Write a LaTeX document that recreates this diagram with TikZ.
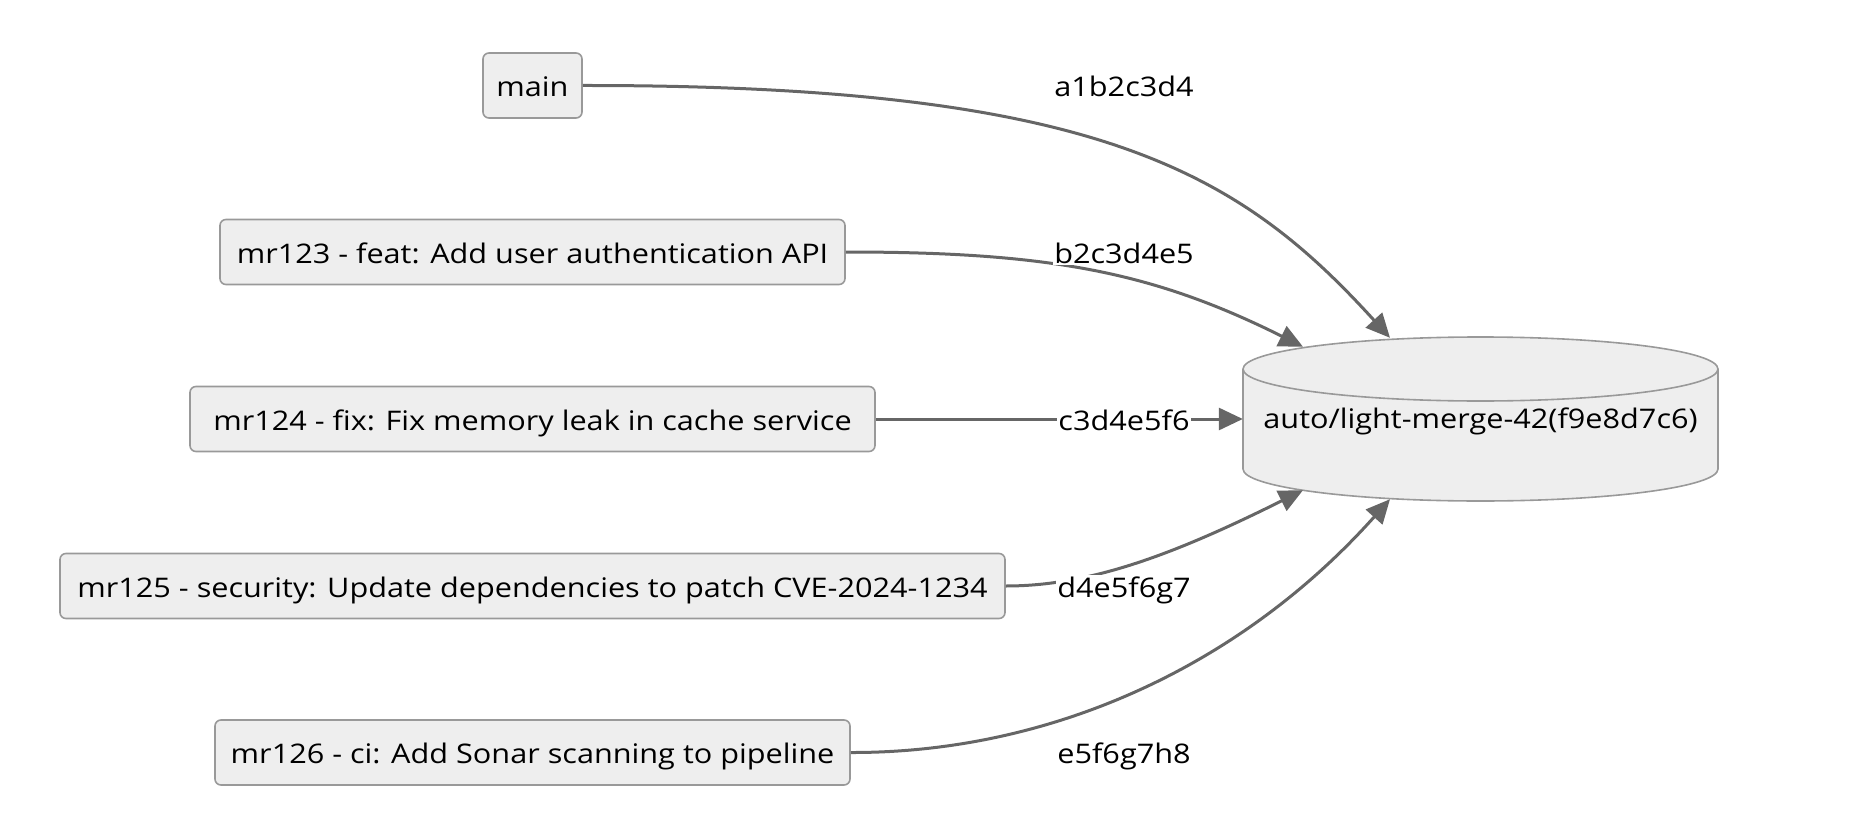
\documentclass[tikz,border=0pt]{standalone}
\usepackage{fontspec}
\setmainfont{Open Sans}[FakeStretch=1.135]
\usetikzlibrary{arrows.meta,calc}
\definecolor{boxfill}{HTML}{EEEEEE}
\definecolor{boxline}{HTML}{999999}
\definecolor{edgecol}{HTML}{666666}
\begin{document}
\begin{tikzpicture}[x=1pt,y=-1pt,
  txt/.style={font=\fontsize{27}{32}\selectfont},
  box/.style={txt, draw=boxline, fill=boxfill, line width=1.6pt, rounded corners=6pt,
    minimum height=65pt, inner sep=0pt, text height=23pt, text depth=0.6pt},
  lbl/.style={txt, fill=white, inner sep=1pt, text height=21.4pt, text depth=0pt},
  conn/.style={draw=edgecol, line width=3pt, -{Triangle[length=24pt,width=22pt]}},
  cyl/.style={draw=boxline, fill=boxfill, line width=1.6pt},
]
\useasboundingbox (0,0) rectangle (1874,824);

\node[box, minimum width=99pt]  (main)  at (532.5,85.5) {main};
\node[box, minimum width=625pt] (mr123) at (532.5,252) {mr123 - feat: Add user authentication API};
\node[box, minimum width=685pt] (mr124) at (532.5,419) {mr124 - fix: Fix memory leak in cache service};
\node[box, minimum width=945pt] (mr125) at (532.5,586) {mr125 - security: Update dependencies to patch CVE-2024-1234};
\node[box, minimum width=635pt] (mr126) at (532.5,752.5) {mr126 - ci: Add Sonar scanning to pipeline};

% cylinder shape
\path[cyl] (1243,369) -- (1243,469)
  arc[start angle=180, end angle=360, x radius=237.5pt, y radius=32pt]
  -- (1718,369)
  arc[start angle=0, end angle=180, x radius=237.5pt, y radius=32pt] -- cycle;
\draw[draw=boxline, line width=1.6pt] (1243,369)
  arc[start angle=180, end angle=360, x radius=237.5pt, y radius=32pt];
\node[txt, minimum width=475pt, minimum height=164pt, inner sep=0pt,
  text height=23pt, text depth=0.6pt] (db) at (1480.5,417) {auto/light-merge-42(f9e8d7c6)};

\draw[conn] (main.east) .. controls (1100,85) and (1240,173) .. ($(db.north)+(-90.5,3)$);
\draw[conn] (mr123.east) .. controls (1050,252) and (1153,272) .. ($(db.north)+(-177.5,12)$);
\draw[conn] (mr124.east) -- ($(db.west)+(0,2)$);
\draw[conn] (mr125.east) .. controls (1090,586) and (1173,555) .. ($(db.south)+(-177.5,-9)$);
\draw[conn] (mr126.east) .. controls (1050,753) and (1240,667) .. ($(db.south)+(-90.5,0)$);

\node[lbl] (l1) at (1124,86)  {a1b2c3d4};
\node[lbl] (l2) at (1124,253) {b2c3d4e5};
\node[lbl] (l3) at (1124,420) {c3d4e5f6};
\node[lbl] (l4) at (1124,587) {d4e5f6g7};
\node[lbl] (l5) at (1124,753) {e5f6g7h8};
\end{tikzpicture}
\end{document}
